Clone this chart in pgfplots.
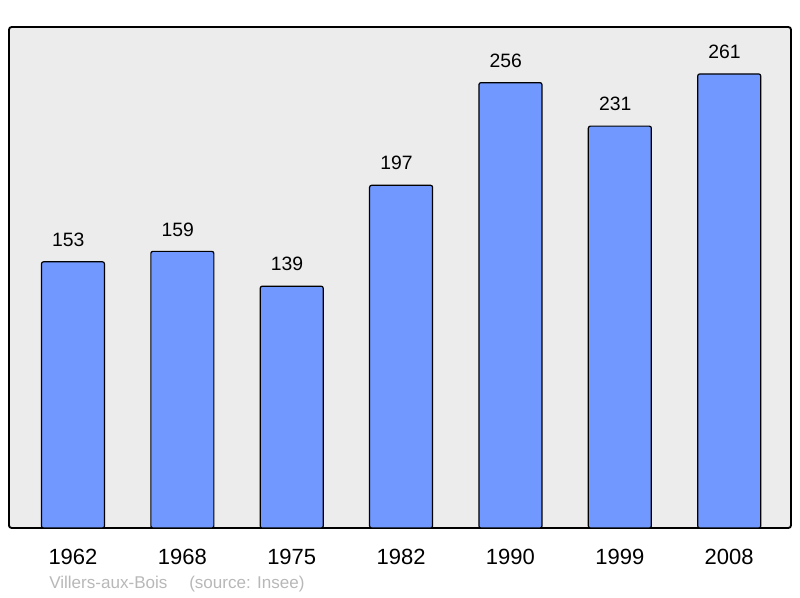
\documentclass[border=0pt]{standalone}
\usepackage{pgfplots}
\pgfplotsset{compat=1.18}
\usepackage{fontspec}
\setmainfont{Liberation Sans}
\definecolor{barblue}{HTML}{7098FF}
\definecolor{bgrey}{HTML}{ECECEC}
\definecolor{srcgrey}{HTML}{B8B8B8}

\begin{document}
\begin{tikzpicture}
  \useasboundingbox (-6.75pt,-52.5pt) rectangle (593.25pt,396pt);
  \begin{axis}[
      at={(0,0)}, anchor=south west,
      scale only axis, width=586.5pt, height=375.75pt,
      xmin=-0.585, xmax=6.565, ymin=0, ymax=288,
      axis background/.style={fill=bgrey},
      axis line style={line width=1.4pt, rounded corners=2pt},
      ytick=\empty,
      xtick={0,...,6},
      xticklabels={1962,1968,1975,1982,1990,1999,2008},
      xtick style={draw=none},
      xticklabel style={font=\fontsize{16.5}{18}\selectfont, anchor=base, yshift=-23pt},
      /pgf/number format/assume math mode=true,
      ybar, bar width=47.25pt,
      nodes near coords,
      every node near coord/.append style={font=\fontsize{14.5}{16}\selectfont, anchor=base, inner sep=0pt, yshift=11.5pt, xshift=-3.5pt},
    ]
    \addplot[fill=barblue, draw=black, line width=0.9pt, rounded corners=1.5pt]
      coordinates {(0,153) (1,159) (2,139) (3,197) (4,256) (5,231) (6,261)};
  \end{axis}
  \node[anchor=base west, inner sep=0pt, text=srcgrey, font=\fontsize{12.8}{14}\selectfont] at (30pt,-45.75pt) {Villers-aux-Bois};
  \node[anchor=base west, inner sep=0pt, text=srcgrey, font=\fontsize{12.8}{14}\selectfont] at (135pt,-45.75pt) {(source: Insee)};
\end{tikzpicture}
\end{document}
